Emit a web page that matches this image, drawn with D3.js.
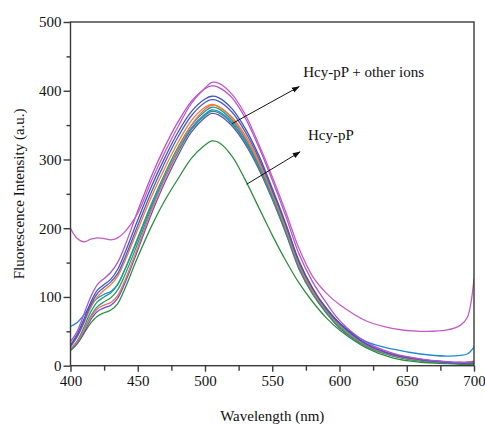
<!DOCTYPE html>
<html><head><meta charset="utf-8">
<script src="https://cdn.jsdelivr.net/npm/d3@7/dist/d3.min.js"></script>
<style>
body{margin:0;background:#fff}
svg text{font-family:"Liberation Serif" !important;}
</style>
</head><body>
<svg id="c" width="485" height="426" style="font-family:'Liberation Serif'"></svg>
<script>
const wavelengths = [400,405,410,415,420,425,430,435,440,450,460,470,480,490,500,505,510,520,530,540,550,560,570,580,590,600,620,640,660,680,690,695,700];
const sOther1 = [200,185,180,184,186,185,183,186,194,222,268,310,348,382,404,412,411,395,365,322,275,224,170,130,106,89,65,54,50,52,59,70,127];
const sOther2 = [35,50,75,100,118,127,136,150,172,225,275,318,355,385,403,407,405,390,360,318,270,218,162,122,92,66,34,18,10,6,5,5,6];
const sOther3 = [30,46,68,92,110,118,126,140,162,212,260,302,340,370,388,392,390,374,345,306,258,207,152,113,84,62,32,16,9,5,4,4,5];
const sOther4 = [28,43,64,88,105,114,122,134,155,204,252,295,333,364,383,387,385,369,340,302,255,205,150,112,83,61,31,16,9,5,4,4,4];
const sOther5 = [28,42,62,84,100,110,118,130,150,198,245,287,325,357,376,380,377,362,335,298,252,202,148,110,82,60,31,16,9,5,4,5,6];
const sOther6 = [25,35,52,70,83,88,92,102,122,172,225,272,314,350,373,379,377,360,332,295,250,200,146,108,81,59,30,15,8,5,5,5,7];
const sOther7 = [24,36,56,78,93,100,106,118,138,186,235,279,318,350,370,376,374,357,330,293,248,198,145,107,80,58,30,15,8,4,4,4,4];
const sOther8 = [57,63,74,88,98,104,108,118,138,184,232,275,314,346,366,372,370,354,327,291,247,198,146,110,84,62,35,24,17,14,15,17,27];
const sOther9 = [23,34,52,72,86,93,99,110,130,178,228,272,311,344,364,370,368,352,325,288,244,195,142,105,78,56,28,14,7,4,3,3,3];
const sOther10 = [22,32,48,67,79,84,88,98,118,168,220,266,306,340,361,367,365,349,322,286,242,193,140,104,77,55,28,14,7,4,3,3,3];
const sHcy = [22,32,47,62,72,77,81,90,110,158,202,240,272,302,321,327,325,305,270,230,190,153,120,93,70,52,26,11,5,3,2,2,2];
const seriesColors = ["#c45cc4","#b653c6","#3d57c2","#5458cc","#f47c2c","#ec6d6d","#1f9e84","#2288d8","#2ba05a","#6a50c8","#2c8f3c"];
const xTicks = [400,450,500,550,600,650,700];
const yTicks = [0,100,200,300,400,500];
const xMinor = [425,475,525,575,625,675];
const yMinor = [50,150,250,350,450];
const labelOther = "Hcy-pP + other ions";
const labelHcy = "Hcy-pP";
const arrowOther = [[520,352],[570,406]];
const arrowHcy = [[531,264],[570.6,311]];

const seriesList = [sHcy,sOther10,sOther9,sOther8,sOther7,sOther6,sOther5,sOther4,sOther3,sOther2,sOther1];
const colorList = [seriesColors[10],seriesColors[9],seriesColors[8],seriesColors[7],seriesColors[6],seriesColors[5],seriesColors[4],seriesColors[3],seriesColors[2],seriesColors[1],seriesColors[0]];

const svg = d3.select("#c");
const x = d3.scaleLinear().domain([400,700]).range([70.5,474]);
const y = d3.scaleLinear().domain([0,500]).range([365.7,22]);
const axisColor = "#3a3a3a";
const font = "Liberation Serif";

const line = d3.line().x((d,i)=>x(wavelengths[i])).y(d=>y(d)).curve(d3.curveCatmullRom.alpha(0.5));
svg.append("clipPath").attr("id","plotclip").append("rect")
  .attr("x",x(400)).attr("y",y(500)).attr("width",x(700)-x(400)).attr("height",y(0)-y(500));
const g = svg.append("g").attr("clip-path","url(#plotclip)");
seriesList.forEach((s,k)=>{
  g.append("path").datum(s).attr("d",line).attr("fill","none")
   .attr("stroke",colorList[k]).attr("stroke-width",1.3);
});

svg.append("rect").attr("x",x(400)).attr("y",y(500)).attr("width",x(700)-x(400)).attr("height",y(0)-y(500))
  .attr("fill","none").attr("stroke",axisColor).attr("stroke-width",1.4);

svg.append("g").attr("transform",`translate(0,${y(0)})`)
  .call(d3.axisBottom(x).tickValues(xTicks).tickSize(6).tickPadding(4).tickFormat(d3.format("d")));
svg.append("g").attr("transform",`translate(${x(400)},0)`)
  .call(d3.axisLeft(y).tickValues(yTicks).tickSize(7).tickPadding(2).tickFormat(d3.format("d")));
svg.append("g").attr("transform",`translate(0,${y(0)})`).call(d3.axisBottom(x).tickValues(xMinor).tickSize(5).tickFormat(""));
svg.append("g").attr("transform",`translate(${x(400)},0)`).call(d3.axisLeft(y).tickValues(yMinor).tickSize(4).tickFormat(""));
svg.selectAll("g").attr("font-family",font).attr("font-size",15);
svg.selectAll(".domain").remove();
svg.selectAll(".tick line").attr("stroke",axisColor).attr("stroke-width",1.4);
svg.selectAll(".tick text").attr("fill","#111").style("font-family",font).style("font-size","15px");

svg.append("text").attr("x",(x(400)+x(700))/2).attr("y",421).attr("text-anchor","middle")
  .style("font-family",font).style("font-size","15px").attr("fill","#111").text("Wavelength (nm)");
svg.append("text").attr("transform",`translate(23.5,${(y(0)+y(500))/2}) rotate(-90)`).attr("text-anchor","middle")
  .style("font-family",font).style("font-size","15px").attr("fill","#111").text("Fluorescence Intensity (a.u.)");

svg.append("defs").append("marker").attr("id","ah").attr("viewBox","0 0 10 10").attr("refX",9).attr("refY",5)
  .attr("markerWidth",8).attr("markerHeight",8).attr("markerUnits","userSpaceOnUse").attr("orient","auto")
  .append("path").attr("d","M0,1.5 L10,5 L0,8.5 Z").attr("fill","#111");
[arrowOther,arrowHcy].forEach(a=>{
  svg.append("line").attr("x1",x(a[0][0])).attr("y1",y(a[0][1])).attr("x2",x(a[1][0])).attr("y2",y(a[1][1]))
   .attr("stroke","#111").attr("stroke-width",1).attr("marker-end","url(#ah)");
});
svg.append("text").attr("x",x(573)).attr("y",y(420)).style("font-family",font).style("font-size","15px")
  .attr("fill","#111").text(labelOther);
svg.append("text").attr("x",x(576.6)).attr("y",y(328.5)).style("font-family",font).style("font-size","15px")
  .attr("fill","#111").text(labelHcy);
</script>
</body></html>
